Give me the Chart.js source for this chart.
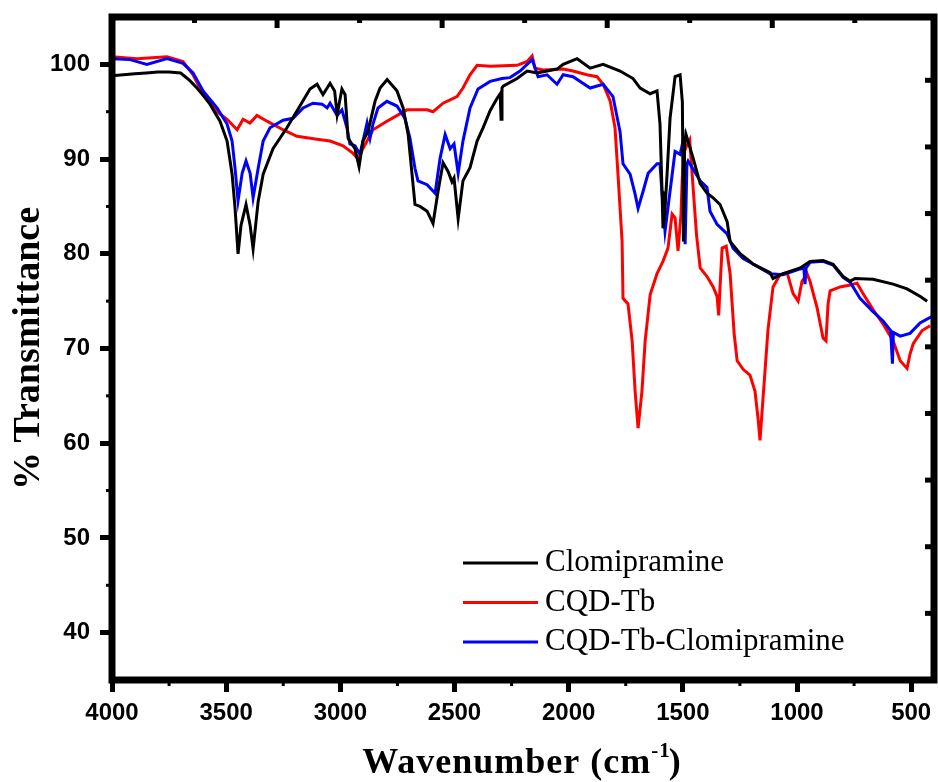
<!DOCTYPE html>
<html>
<head>
<meta charset="utf-8">
<title>FTIR spectra</title>
<script src="https://cdn.jsdelivr.net/npm/chart.js@4.4.1/dist/chart.umd.min.js"></script>
<style>
  html, body { margin: 0; padding: 0; background: #fff; }
  #wrap { width: 938px; height: 782px; }
</style>
</head>
<body>
<div id="wrap"><canvas id="ftirChart" width="938" height="782"></canvas></div>
<script>
// wavenumber (cm-1) and % transmittance
const clomiWn = [4000,3950,3900,3850,3800,3750,3700,3690,3660,3628,
  3600,3571,3527,3496,3474,3461,3448,3435,3413,3395,
  3382,3360,3338,3295,3234,3177,3133,3102,3076,3045,
  3025,3014,2993,2979,2966,2936,2918,2901,2879,2848,
  2826,2795,2752,2725,2703,2686,2673,2651,2620,2594,
  2572,2550,2528,2511,2502,2484,2463,2432,2401,2375,
  2344,2314,2300,2296,2292,2287,2226,2182,2138,2051,
  2024,1963,1906,1849,1775,1718,1687,1643,1613,1600,
  1591,1587,1580,1569,1556,1534,1512,1502,1497,1492,
  1486,1455,1424,1394,1367,1337,1306,1293,1249,1206,
  1192,1118,1105,1061,986,943,886,842,798,767,
  746,667,579,518,460,430];
const clomiT = [98.8,98.9,99.0,99.1,99.2,99.2,99.1,98.9,98.3,97.5,
  96.7,95.8,94.0,91.9,88.4,84.8,80.0,83.0,85.2,83.0,
  80.5,85.5,88.4,91.1,93.3,95.6,97.4,97.9,96.8,98.0,
  97.2,94.7,97.4,96.8,92.2,91.1,89.2,91.9,92.9,96.1,
  97.5,98.4,97.2,95.4,92.6,88.4,85.2,85.0,84.5,83.2,
  86.6,89.6,88.7,87.6,88.0,83.7,87.7,89.1,91.9,93.3,
  95.1,96.4,96.9,94.2,97.5,97.7,98.5,99.3,99.1,99.5,
  100.0,100.6,99.6,100.0,99.3,98.5,97.5,96.9,97.2,93.7,
  86.6,82.7,84.0,88.4,94.3,98.7,98.9,96.0,81.3,91.5,
  92.6,90.1,87.4,86.4,85.9,85.2,83.4,81.3,80.0,79.2,
  78.9,78.0,77.4,77.9,78.5,79.2,79.3,78.9,77.6,77.1,
  77.4,77.3,76.8,76.3,75.5,75.0];

const cqdWn = [4000,3890,3759,3689,3645,3601,3540,3496,3452,3426,
  3396,3365,3321,3251,3190,3102,3045,2988,2944,2922,
  2901,2857,2796,2708,2620,2594,2550,2489,2463,2432,
  2401,2344,2226,2182,2160,2147,2112,2024,1981,1920,
  1876,1849,1818,1797,1784,1766,1762,1740,1722,1709,
  1696,1679,1665,1643,1613,1587,1565,1547,1534,1521,
  1508,1503,1495,1470,1455,1440,1424,1394,1367,1350,
  1343,1337,1328,1310,1293,1275,1262,1236,1206,1184,
  1170,1162,1145,1127,1105,1074,1043,1017,995,978,
  956,943,912,886,873,864,855,811,767,737,
  711,667,623,579,548,518,505,491,452,417];
const cqdT = [100.8,100.6,100.8,100.3,98.9,96.8,95.0,94.2,93.1,94.2,
  93.8,94.6,94.0,93.1,92.4,92.1,91.9,91.4,90.6,90.0,
  91.1,93.1,94.0,95.2,95.2,95.0,95.9,96.6,97.5,98.9,
  99.9,99.8,99.9,100.3,100.9,99.6,99.4,99.5,99.3,98.9,
  98.7,97.9,96.1,93.3,88.4,81.3,75.3,74.7,70.8,65.5,
  61.6,65.5,70.8,75.7,77.9,79.2,80.6,84.2,83.8,80.3,
  84.2,87.7,90.8,92.0,87.0,82.0,78.5,77.6,76.5,75.5,
  73.5,76.5,80.6,80.8,77.9,71.5,68.7,67.8,67.2,65.5,
  62.5,60.3,66.0,72.0,76.5,77.8,78.0,75.8,75.0,77.1,
  77.9,77.1,74.3,71.1,70.8,74.7,76.1,76.5,76.7,76.9,
  75.8,74.1,72.6,70.8,68.7,67.9,69.4,70.5,71.9,72.4];

const mixWn = [4000,3921,3847,3759,3689,3645,3601,3540,3496,3474,
  3461,3448,3430,3413,3395,3382,3360,3338,3308,3251,
  3207,3163,3120,3080,3058,3045,3014,2993,2971,2958,
  2936,2914,2901,2883,2870,2857,2835,2796,2752,2717,
  2695,2673,2660,2620,2585,2563,2541,2519,2502,2484,
  2463,2432,2397,2344,2292,2257,2213,2182,2160,2134,
  2095,2051,2024,1981,1906,1849,1806,1775,1762,1731,
  1709,1696,1674,1652,1613,1600,1591,1578,1556,1534,
  1512,1499,1490,1482,1477,1424,1394,1381,1350,1306,
  1280,1236,1206,1118,1061,986,970,965,960,943,
  886,842,798,767,724,667,623,590,582,578,
  548,505,461,400];
const mixT = [100.6,100.5,100.0,100.6,100.1,99.1,97.2,95.4,93.7,91.9,
  89.0,85.6,88.5,89.8,88.5,85.9,89.0,91.9,93.3,94.1,
  94.3,95.4,95.9,95.8,95.4,95.9,94.6,95.2,93.3,91.6,
  91.4,90.5,91.9,93.8,92.2,93.7,95.4,96.1,95.6,94.3,
  92.2,89.0,87.7,87.3,86.4,90.1,92.6,91.1,91.6,88.5,
  91.9,95.4,97.4,98.2,98.5,98.6,99.3,100.0,100.5,98.7,
  98.9,97.9,98.9,98.7,97.5,97.9,96.6,92.9,89.5,88.4,
  86.3,84.8,86.6,88.5,89.5,89.5,86.3,82.4,86.6,90.8,
  90.5,91.9,81.0,89.5,89.8,87.7,87.0,84.5,83.1,82.1,
  80.6,79.5,79.1,77.9,77.8,78.4,78.5,76.8,78.5,79.1,
  79.2,78.8,77.5,77.0,75.3,73.9,72.9,71.9,68.4,71.7,
  71.3,71.6,72.7,73.5];

const seriesNames = ['Clomipramine', 'CQD-Tb', 'CQD-Tb-Clomipramine'];

// tick values
const xTicks = [4000, 3500, 3000, 2500, 2000, 1500, 1000, 500];
const xMinor = [3750, 3250, 2750, 2250, 1750, 1250, 750];
const yTicks = [40, 50, 60, 70, 80, 90, 100];
const yMinor = [45, 55, 65, 75, 85, 95];
// the top and right frame carry their own (differently scaled) ticks in the original
const topMajor = [3500, 3000, 2500, 2000];
const topMinor = [3750, 3250, 2750, 2250, 1750];
const rightTicks = [40, 45, 50, 55, 60, 65, 70, 75, 80];

function toPoints(wn, t) {
  return wn.map((w, i) => ({ x: w, y: t[i] }));
}

function segment(ctx, x1, y1, x2, y2) {
  ctx.beginPath();
  ctx.moveTo(x1, y1);
  ctx.lineTo(x2, y2);
  ctx.stroke();
}

// keep the plot box fixed: no extra room for label overhang
function noPad(s) {
  s.paddingTop = 0;
  s.paddingBottom = 0;
  s.paddingLeft = 0;
  s.paddingRight = 0;
}

// frame, extra ticks, x title with superscript and the inner legend
const frameAndLegend = {
  id: 'frameAndLegend',
  afterDraw(chart) {
    const { ctx, chartArea: a, scales } = chart;
    ctx.save();
    ctx.strokeStyle = '#000';
    ctx.lineCap = 'butt';

    // small minor ticks outside bottom / left
    ctx.lineWidth = 3;
    xMinor.forEach(v => {
      const px = scales.x.getPixelForValue(v);
      segment(ctx, px, a.bottom, px, a.bottom + 6);
    });
    yMinor.forEach(v => {
      const py = scales.y.getPixelForValue(v);
      segment(ctx, a.left, py, a.left - 6, py);
    });

    // inward ticks on top and right
    ctx.lineWidth = 5;
    topMajor.forEach(v => {
      const px = scales.x2.getPixelForValue(v);
      segment(ctx, px, a.top, px, a.top + 11);
    });
    topMinor.forEach(v => {
      const px = scales.x2.getPixelForValue(v);
      segment(ctx, px, a.top, px, a.top + 6);
    });
    rightTicks.forEach(v => {
      const py = scales.y2.getPixelForValue(v);
      segment(ctx, a.right, py, a.right - 9, py);
    });

    // frame
    ctx.lineWidth = 7;
    ctx.lineJoin = 'miter';
    ctx.strokeRect(a.left, a.top, a.right - a.left, a.bottom - a.top);

    // x axis title: Wavenumber (cm^-1)
    const mainFont = 'bold 36px "Liberation Serif", "Times New Roman", serif';
    const supFont = 'bold 21px "Liberation Serif", "Times New Roman", serif';
    const part1 = 'Wavenumber (cm', sup = '-1', part2 = ')';
    ctx.fillStyle = '#000';
    ctx.textBaseline = 'alphabetic';
    ctx.textAlign = 'left';
    ctx.letterSpacing = '1px';
    ctx.font = mainFont;
    const w1 = ctx.measureText(part1).width;
    const w3 = ctx.measureText(part2).width;
    ctx.font = supFont;
    const w2 = ctx.measureText(sup).width;
    const base = 773;
    let tx = (a.left + a.right) / 2 - (w1 + w2 + w3) / 2;
    ctx.font = mainFont;
    ctx.fillText(part1, tx, base);
    tx += w1;
    ctx.font = supFont;
    ctx.fillText(sup, tx, base - 16);
    tx += w2;
    ctx.font = mainFont;
    ctx.fillText(part2, tx - 2, base);
    ctx.letterSpacing = '0px';

    // legend inside the plot
    const legX = 463, legY = 563, legGap = 39.5;
    ctx.font = '31px "Liberation Serif", "Times New Roman", serif';
    ctx.textBaseline = 'middle';
    chart.data.datasets.forEach((ds, i) => {
      const y = legY + i * legGap;
      ctx.strokeStyle = ds.borderColor;
      ctx.lineWidth = 3;
      segment(ctx, legX, y, legX + 75, y);
      ctx.fillStyle = '#000';
      ctx.fillText(ds.label, legX + 82, y);
    });
    ctx.restore();
  }
};

const tickFont = { family: '"Liberation Sans", Arial, sans-serif', size: 24, weight: 'bold' };
const plainNumber = v => String(v);

window.onload = function() {
  const ctx = document.getElementById('ftirChart').getContext('2d');
  new Chart(ctx, {
    type: 'line',
    data: {
      datasets: [
        { label: seriesNames[0], data: toPoints(clomiWn, clomiT), borderColor: '#000000', order: 0 },
        { label: seriesNames[1], data: toPoints(cqdWn, cqdT), borderColor: '#ff0000', order: 2 },
        { label: seriesNames[2], data: toPoints(mixWn, mixT), borderColor: '#0000ff', order: 1 }
      ]
    },
    options: {
      responsive: false,
      animation: false,
      devicePixelRatio: 1,
      parsing: false,
      layout: { padding: 0 },
      elements: {
        line: { borderWidth: 3, tension: 0, fill: false },
        point: { radius: 0 }
      },
      scales: {
        x: {
          type: 'linear',
          position: 'bottom',
          reverse: true,
          min: 400,
          max: 4000,
          afterBuildTicks: s => { s.ticks = xTicks.map(v => ({ value: v })); },
          afterFit: s => { s.height = 102; noPad(s); },
          border: { display: false },
          grid: { drawOnChartArea: false, drawTicks: true, tickLength: 12, tickWidth: 5, tickColor: '#000' },
          ticks: { color: '#000', font: tickFont, padding: 7, maxRotation: 0, autoSkip: false, callback: plainNumber }
        },
        x2: {
          type: 'linear',
          position: 'top',
          reverse: true,
          min: 1510,
          max: 4000,
          afterFit: s => { s.height = 17; noPad(s); },
          border: { display: false },
          grid: { display: false },
          ticks: { display: false }
        },
        y: {
          type: 'linear',
          position: 'left',
          min: 35,
          max: 105,
          afterBuildTicks: s => { s.ticks = yTicks.map(v => ({ value: v })); },
          afterFit: s => { s.width = 112; noPad(s); },
          border: { display: false },
          grid: { drawOnChartArea: false, drawTicks: true, tickLength: 12, tickWidth: 5, tickColor: '#000' },
          ticks: { color: '#000', font: tickFont, padding: 10, autoSkip: false, callback: plainNumber },
          title: {
            display: true,
            text: '% Transmittance',
            color: '#000',
            font: { family: '"Liberation Serif", "Times New Roman", serif', size: 38, weight: 'bold' },
            padding: { top: 6, bottom: 0 }
          }
        },
        y2: {
          type: 'linear',
          position: 'right',
          min: 35,
          max: 84.75,
          afterFit: s => { s.width = 4; noPad(s); },
          border: { display: false },
          grid: { display: false },
          ticks: { display: false }
        }
      },
      plugins: {
        legend: { display: false },
        tooltip: { enabled: false }
      }
    },
    plugins: [frameAndLegend]
  });
};
</script>
</body>
</html>
